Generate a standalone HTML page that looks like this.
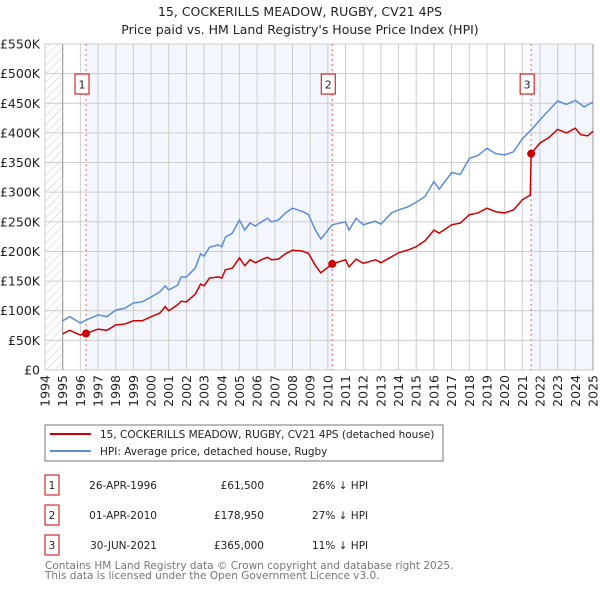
<!DOCTYPE html>
<html><head><meta charset="utf-8"><style>
body{margin:0;background:#fff;font-family:"DejaVu Sans","Liberation Sans",sans-serif;}
svg text{font-family:"DejaVu Sans","Liberation Sans",sans-serif;}
</style></head><body>
<svg id="c" width="600" height="590" xmlns="http://www.w3.org/2000/svg">
<defs><pattern id="hatch" width="6" height="6" patternUnits="userSpaceOnUse" patternTransform="rotate(45)"><line x1="0" y1="0" x2="0" y2="6" stroke="#ccc" stroke-width="1"/></pattern></defs>
<text x="300" y="16" text-anchor="middle" font-size="12.5" fill="#222">15, COCKERILLS MEADOW, RUGBY, CV21 4PS</text>
<text x="300" y="34" text-anchor="middle" font-size="12.5" fill="#222">Price paid vs. HM Land Registry's House Price Index (HPI)</text>
<g id="plot"></g>
<rect x="45" y="425" width="398" height="36" fill="#fff" stroke="#777"/>
<line x1="50" y1="434" x2="91" y2="434" stroke="#cc0000" stroke-width="2"/>
<text x="100" y="438" font-size="10.5" fill="#222">15, COCKERILLS MEADOW, RUGBY, CV21 4PS (detached house)</text>
<line x1="50" y1="451" x2="91" y2="451" stroke="#5b8ed6" stroke-width="2"/>
<text x="100" y="455" font-size="10.5" fill="#222">HPI: Average price, detached house, Rugby</text>
<g id="tbl" font-size="10.5" fill="#222"></g>
<text x="45" y="569" font-size="10.5" fill="#777">Contains HM Land Registry data © Crown copyright and database right 2025.</text>
<text x="45" y="579" font-size="10.5" fill="#777">This data is licensed under the Open Government Licence v3.0.</text>
</svg>
<script>
const hpiYears=[1995,1995.4,1996,1996.3,1997,1997.5,1998,1998.5,1999,1999.5,2000,2000.5,2000.8,2001,2001.5,2001.7,2002,2002.5,2002.8,2003,2003.3,2003.8,2004,2004.2,2004.6,2005,2005.3,2005.6,2005.9,2006.3,2006.6,2006.8,2007.2,2007.6,2008,2008.3,2008.6,2008.9,2009.3,2009.6,2010.25,2011,2011.2,2011.6,2012,2012.7,2013,2013.6,2014,2014.5,2015,2015.5,2016,2016.3,2017,2017.5,2018,2018.5,2019,2019.5,2020,2020.5,2021,2021.5,2022,2022.5,2023,2023.5,2024,2024.5,2025];
const hpiValues=[83,90,79,84,93,90,101,104,113,115,123,132,142,135,143,157,157,172,196,192,207,211,208,224,231,253,236,248,243,251,256,250,253,265,273,270,267,262,236,221,245,250,236,256,245,251,246,265,270,275,283,293,318,305,333,330,357,362,374,365,363,368,390,405,422,438,454,448,455,444,452];
const priceYears=[1995,1995.4,1996,1996.32,1997,1997.5,1998,1998.5,1999,1999.5,2000,2000.5,2000.8,2001,2001.5,2001.7,2002,2002.5,2002.8,2003,2003.3,2003.8,2004,2004.2,2004.6,2005,2005.3,2005.6,2005.9,2006.3,2006.6,2006.8,2007.2,2007.6,2008,2008.5,2008.9,2009.3,2009.6,2010.25,2011,2011.2,2011.6,2012,2012.7,2013,2013.6,2014,2014.5,2015,2015.5,2016,2016.3,2017,2017.5,2018,2018.5,2019,2019.5,2020,2020.5,2021,2021.45,2021.5,2022,2022.5,2023,2023.5,2024,2024.3,2024.7,2025];
const priceValues=[61,67,59,61.5,69,67,76,77.5,83,83,90,96,107,100,110,116,115,128,145,142,155,157,155,169,172,189,176,186,181,187,190,186,187,196,202,201,197,176,164,178.95,186,174,187,180,186,181,191,198,202,208,218,236,231,245,248,262,265,273,267,265,270,287,295,365,383,392,406,400,408,397,395,403];
const saleYears=[1996.32,2010.25,2021.5];
const saleValues=[61.5,178.95,365];
const saleDates=["26-APR-1996","01-APR-2010","30-JUN-2021"];
const salePrices=["£61,500","£178,950","£365,000"];
const saleDiffs=["26% ↓ HPI","27% ↓ HPI","11% ↓ HPI"];
const yTicks=[0,50,100,150,200,250,300,350,400,450,500,550];
const xTicks=[1994,1995,1996,1997,1998,1999,2000,2001,2002,2003,2004,2005,2006,2007,2008,2009,2010,2011,2012,2013,2014,2015,2016,2017,2018,2019,2020,2021,2022,2023,2024,2025];

const NS="http://www.w3.org/2000/svg";
const L=45,R=593,T=44,B=370;
const X=y=>L+(y-1994)/(2025-1994)*(R-L);
const Y=v=>B-v/550*(B-T);
const g=document.getElementById('plot');
function mk(t,a,p){const e=document.createElementNS(NS,t);for(const k in a)e.setAttribute(k,a[k]);(p||g).appendChild(e);return e;}
let e;
e=mk('rect',{x:L,y:T,width:R-L,height:B-T,fill:'#fff'});


e=mk('rect',{x:X(saleYears[0]),y:T,width:X(saleYears[1])-X(saleYears[0]),height:B-T,fill:'#eef3fc',opacity:0.7});


e=mk('rect',{x:X(saleYears[2]),y:T,width:R-X(saleYears[2]),height:B-T,fill:'#eef3fc',opacity:0.7});


e=mk('rect',{x:L,y:T,width:X(1995)-L,height:B-T,fill:'url(#hatch)'});


yTicks.forEach(v=>{
 e=mk('line',{x1:L,x2:R,y1:Y(v),y2:Y(v),stroke:'#ccc','stroke-width':1});
 
 
 e=mk('text',{x:40,y:Y(v)+4.5,'text-anchor':'end','font-size':12.5,fill:'#222'});
 e.textContent=v===0?'£0':'£'+v+'K';
 
 
});
xTicks.forEach(yr=>{
 e=mk('line',{x1:X(yr),x2:X(yr),y1:T,y2:B,stroke:'#ccc','stroke-width':1});
 
 
 e=mk('text',{x:0,y:0,'text-anchor':'end','font-size':12.5,fill:'#222',transform:`translate(${X(yr)+4.5},${B+5}) rotate(-90)`});
 e.textContent=yr;
 
 
});
e=mk('line',{x1:X(1995),x2:X(1995),y1:T,y2:B,stroke:'#999'});


e=mk('line',{x1:R,x2:R,y1:T,y2:B,stroke:'#999'});


saleYears.forEach((yr,i)=>{
 e=mk('line',{x1:X(yr),x2:X(yr),y1:T,y2:B,stroke:'#e06666','stroke-dasharray':'2,3','stroke-width':1});
 
 
 e=mk('rect',{x:X(yr)-11,y:74,width:14,height:20,fill:'#fff',stroke:'#cc0000'});
 
 
 e=mk('text',{x:X(yr)-4,y:88.5,'text-anchor':'middle','font-size':11,fill:'#222'});
 e.textContent=i+1;
 
 
});
e=mk('polyline',{points:hpiYears.map((y,i)=>X(y)+','+Y(hpiValues[i])).join(' '),fill:'none',stroke:'#5b8ed6','stroke-width':1.5});


e=mk('polyline',{points:priceYears.map((y,i)=>X(y)+','+Y(priceValues[i])).join(' '),fill:'none',stroke:'#cc0000','stroke-width':1.5});


saleYears.forEach((yr,i)=>{
 e=mk('circle',{cx:X(yr),cy:Y(saleValues[i]),r:4,fill:'#cc0000'});
 
 
});
const tb=document.getElementById('tbl');
saleYears.forEach((yr,i)=>{
 const y0=475+i*30;
 e=mk('rect',{x:45,y:y0,width:14,height:20,fill:'#fff',stroke:'#cc0000'},tb);
 
 
 e=mk('text',{x:52,y:y0+14,'text-anchor':'middle'},tb);e.textContent=i+1;
 
 
 e=mk('text',{x:157,y:y0+14,'text-anchor':'end'},tb);e.textContent=saleDates[i];
 
 
 e=mk('text',{x:264,y:y0+14,'text-anchor':'end'},tb);e.textContent=salePrices[i];
 
 
 e=mk('text',{x:312,y:y0+14},tb);e.textContent=saleDiffs[i];
 
 
});
</script>
</body></html>
